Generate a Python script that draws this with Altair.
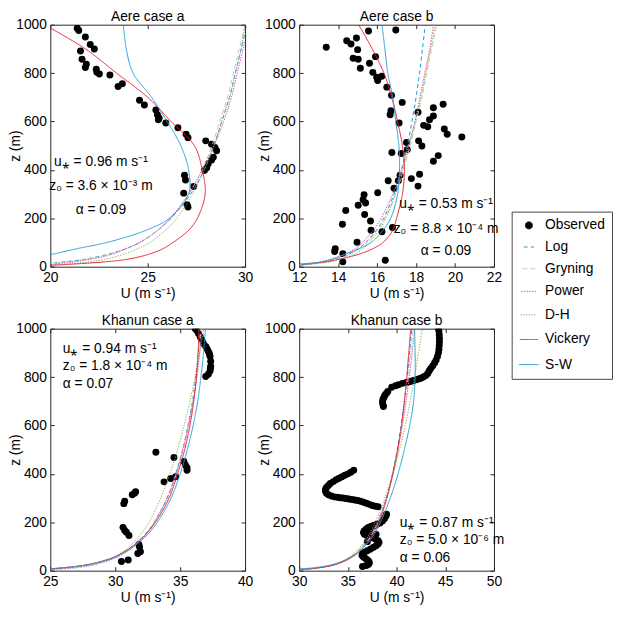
import altair as alt
import pandas as pd

FONT = "Liberation Sans"

SERIES = ["Observed", "Log", "Gryning", "Power", "D-H", "Vickery", "S-W"]
COLORS = ["#000000", "#1f96d6", "#c6c6b6", "#e052b8", "#78b03a", "#e8232b", "#2a9ed8"]
DASHES = [[1, 0], [4, 3], [5, 3], [1.5, 1.2], [1.2, 1.6], [1, 0], [1, 0]]
SHAPES = ["circle", "stroke", "stroke", "stroke", "stroke", "stroke", "stroke"]
SIZES = [50, 400, 400, 400, 400, 400, 400]

Z = [1, 2, 5, 10, 20, 30, 50, 75, 100, 150, 200, 300, 400, 500, 600, 700, 800, 900, 1000]
YTICKS = [0, 200, 400, 600, 800, 1000]

# ---------------- Aere case a ----------------
AA_TICKS = [20, 25, 30]
AA_OBS_U = [21.38, 21.46, 21.8, 21.55, 22.05, 22.26, 21.63, 21.85, 21.8, 22.36, 22.39, 22.52,
            23.06, 23.48, 23.7, 24.58, 24.83, 25.42, 25.5, 25.59, 25.55, 25.93, 26.55, 26.97,
            27.07, 27.98, 28.28, 28.45, 28.54, 28.37, 28.28, 28.11, 28.03, 27.91, 26.89, 26.94,
            26.85, 27.36, 27.02, 27.07]
AA_OBS_Z = [985, 976, 949, 891, 918, 900, 857, 837, 823, 816, 803, 796,
            792, 745, 756, 688, 668, 648, 628, 614, 607, 594, 574, 547,
            533, 520, 506, 493, 479, 452, 441, 425, 409, 398, 378, 358,
            304, 331, 256, 247]
AA_LOG = [13.5, 15.2, 17.4, 19.0, 20.7, 21.7, 22.9, 23.9, 24.6, 25.5, 26.2, 27.2, 27.9, 28.4, 28.8, 29.2, 29.5, 29.8, 30.1]
AA_GRY = [13.8, 15.5, 17.6, 19.2, 20.8, 21.8, 23.0, 23.9, 24.6, 25.5, 26.2, 27.1, 27.8, 28.3, 28.7, 29.1, 29.4, 29.7, 30.0]
AA_POW = [16.2, 17.4, 18.9, 20.0, 21.25, 22.0, 23.1, 23.9, 24.6, 25.5, 26.15, 27.1, 27.8, 28.4, 28.9, 29.3, 29.6, 29.9, 30.2]
AA_DH = [16.0, 17.5, 19.5, 20.8, 22.0, 22.8, 23.7, 24.5, 25.1, 25.9, 26.5, 27.3, 27.9, 28.4, 28.8, 29.2, 29.5, 29.8, 30.0]
AA_VIC = [17.5, 18.5, 19.8, 21.0, 22.8, 23.9, 25.0, 25.8, 26.3, 27.1, 27.55, 27.95, 27.8, 27.4, 26.2, 25.0, 23.4, 21.8, 19.7]
AA_SW = [5.0, 8.0, 12.0, 14.5, 17.0, 18.5, 20.0, 21.4, 22.9, 24.9, 26.1, 27.1, 27.1, 26.7, 26.0, 25.2, 24.25, 23.9, 23.75]
AA_NOTE_U = [22.6, 22.6, 22.6]
AA_NOTE_Z = [433, 332, 235]
AA_NOTE_T = ["u⁎ = 0.96 m s⁻¹", "z₀ = 3.6 × 10⁻³ m", "α = 0.09"]

# ---------------- Aere case b ----------------
AB_TICKS = [12, 14, 16, 18, 20, 22]
AB_OBS_U = [13.39, 14.44, 14.66, 14.94, 15.56, 16.96, 15.0, 14.77, 15.03, 15.14, 15.61, 15.92,
            15.78, 15.98, 16.24, 16.03, 16.5, 16.74, 17.29, 16.71, 16.67, 17.13, 18.1, 18.39,
            18.6, 18.69, 18.89, 18.89, 19.39, 19.45, 19.6, 20.35, 18.13, 18.3, 17.51, 17.55,
            17.24, 16.76, 19.14, 18.89, 17.76, 18.18, 18.1, 17.18, 17.09, 16.87, 16.57, 16.03,
            15.33, 15.28, 15.41, 15.03, 15.36, 14.39, 14.22, 15.66, 16.79, 16.25, 15.69, 14.97,
            13.85, 13.82, 14.24, 14.24, 16.42]
AB_OBS_Z = [907, 934, 920, 945, 974, 978, 897, 861, 857, 820, 841, 868,
            803, 783, 787, 769, 742, 708, 679, 644, 628, 594, 638, 584,
            578, 607, 623, 657, 671, 569, 547, 536, 520, 499, 513, 483,
            468, 472, 459, 436, 364, 382, 333, 378, 355, 324, 355, 306,
            297, 277, 263, 254, 216, 232, 175, 189, 162, 144, 151, 101,
            74, 63, 54, 20, 27]
AB_LOG = [9.33, 10.24, 11.46, 12.38, 13.3, 13.84, 14.51, 15.04, 15.42, 15.96, 16.34, 16.87, 17.25, 17.55, 17.79, 18.0, 18.18, 18.33, 18.47]
AB_GRY = [9.5, 10.4, 11.6, 12.5, 13.4, 13.9, 14.6, 15.1, 15.5, 16.0, 16.4, 16.95, 17.35, 17.7, 18.0, 18.3, 18.55, 18.8, 19.05]
AB_POW = [10.06, 10.7, 11.5, 12.4, 13.2, 13.7, 14.3, 14.9, 15.25, 15.8, 16.2, 16.8, 17.25, 17.6, 17.95, 18.2, 18.45, 18.7, 18.9]
AB_DH = [9.8, 10.7, 11.8, 12.6, 13.6, 14.1, 14.8, 15.3, 15.6, 16.1, 16.45, 16.95, 17.3, 17.65, 17.95, 18.25, 18.5, 18.75, 19.0]
AB_VIC = [9.0, 10.0, 11.3, 11.9, 13.3, 14.0, 15.0, 15.8, 16.3, 16.8, 17.0, 17.3, 17.4, 17.3, 17.05, 16.75, 16.35, 15.75, 15.05]
AB_SW = [10.5, 11.2, 11.8, 12.4, 13.1, 13.6, 14.3, 15.1, 15.7, 16.3, 16.7, 17.05, 17.15, 17.12, 16.96, 16.8, 16.55, 16.4, 16.25]
AB_NOTE_U = [19.54, 19.54, 19.54]
AB_NOTE_Z = [259, 155, 65]
AB_NOTE_T = ["u⁎ = 0.53 m s⁻¹", "z₀ = 8.8 × 10⁻⁴ m", "α = 0.09"]

# ---------------- Khanun case a ----------------
KA_TICKS = [25, 30, 35, 40]
KA_OBS_U = [36.16, 36.29, 36.41, 36.55, 36.67, 36.79, 36.97, 37.08, 37.17, 37.25, 37.3, 37.35,
            37.35, 37.33, 37.3, 37.17, 36.97, 33.13, 34.52, 35.28, 35.4, 35.53, 35.53, 34.65,
            34.27, 33.76, 31.49, 31.31, 31.57, 30.73, 30.66, 30.6, 30.73, 30.86, 31.06, 31.82,
            31.87, 31.94, 31.74, 31.0, 30.48]
KA_OBS_Z = [1000, 991, 980, 966, 953, 939, 926, 916, 906, 896, 886, 865,
            845, 835, 825, 812, 802, 489, 468, 451, 437, 425, 415, 388,
            381, 367, 320, 314, 326, 287, 277, 179, 166, 159, 145, 108,
            98, 78, 71, 44, 38]
KA_LOG = [20.3, 21.9, 24.0, 25.7, 27.4, 28.4, 29.7, 30.6, 31.3, 32.3, 33.0, 34.0, 34.65, 35.2, 35.6, 35.95, 36.2, 36.4, 36.55]
KA_GRY = [20.4, 22.0, 24.1, 25.8, 27.5, 28.5, 29.8, 30.7, 31.35, 32.35, 33.05, 34.05, 34.7, 35.25, 35.65, 36.0, 36.25, 36.45, 36.6]
KA_POW = [22.6, 23.7, 25.2, 26.6, 28.0, 28.8, 29.9, 30.8, 31.4, 32.4, 33.0, 34.0, 34.7, 35.2, 35.65, 36.0, 36.3, 36.5, 36.7]
KA_DH = [21.0, 22.6, 24.5, 26.0, 27.6, 28.5, 29.7, 30.5, 31.1, 31.95, 32.6, 33.5, 34.2, 34.8, 35.3, 35.75, 36.15, 36.5, 36.85]
KA_VIC = [20.5, 22.0, 24.0, 25.6, 27.3, 28.3, 29.6, 30.6, 31.3, 32.35, 33.1, 34.15, 34.8, 35.35, 35.75, 36.05, 36.25, 36.38, 36.45]
KA_SW = [19.5, 21.5, 23.8, 25.5, 27.3, 28.4, 29.7, 30.7, 31.45, 32.5, 33.25, 34.3, 35.0, 35.55, 36.0, 36.35, 36.6, 36.8, 36.95]
KA_NOTE_U = [25.96, 25.96, 25.96]
KA_NOTE_Z = [914, 844, 770]
KA_NOTE_T = ["u⁎ = 0.94 m s⁻¹", "z₀ = 1.8 × 10⁻⁴ m", "α = 0.07"]

# ---------------- Khanun case b ----------------
KB_TICKS = [30, 35, 40, 45, 50]
KB_OBS_U = [44.3, 44.35, 44.38, 44.4, 44.4, 44.38, 44.35, 44.3, 44.2, 44.05, 43.9, 43.7,
            43.5, 43.35, 43.2, 43.0, 42.75, 42.5, 42.25, 42.0, 41.75, 41.5, 41.25, 41.0,
            40.6, 40.2, 39.9, 39.5, 39.1, 38.95, 38.8, 38.7, 38.6, 38.55, 38.6, 38.65,
            35.6, 35.3, 35.0, 34.7, 34.4, 34.1, 33.8, 33.5, 33.2, 33.0, 32.8, 32.7,
            32.7, 32.8, 33.0, 33.3, 33.6, 33.9, 34.2, 34.5, 34.8, 35.1, 35.4, 35.7,
            36.0, 36.3, 36.6, 36.9, 37.2, 37.5, 37.8, 38.1,
            38.97, 38.9, 38.75, 38.55, 38.3, 38.0, 37.7, 37.4, 37.1, 36.9, 36.7, 36.6,
            36.7, 36.9, 37.2, 37.5, 37.8, 38.1, 38.2, 38.1, 37.9, 37.6, 37.3, 37.0,
            36.7, 36.5, 36.45, 36.6, 36.8, 37.0, 37.15, 37.2, 37.1, 36.9, 36.5,
            37.3, 37.9, 37.0, 37.6]
KB_OBS_Z = [1000, 990, 975, 960, 945, 930, 915, 900, 885, 870, 858, 846,
            835, 825, 815, 806, 800, 795, 792, 789, 786, 783, 780, 778,
            774, 768, 764, 758, 740, 732, 725, 716, 707, 697, 686, 678,
            415, 407, 400, 394, 388, 382, 376, 368, 360, 352, 344, 336,
            328, 320, 314, 309, 305, 303, 301, 300, 298, 296, 294, 292,
            290, 287, 283, 279, 274, 269, 266, 264,
            233, 225, 215, 205, 197, 192, 188, 184, 178, 172, 165, 158,
            151, 146, 141, 136, 131, 124, 117, 110, 103, 96, 89, 82,
            76, 70, 63, 56, 50, 44, 38, 32, 26, 21, 17,
            160, 150, 120, 185]
KB_LOG = [26.56, 28.06, 30.06, 31.56, 33.06, 33.95, 35.06, 35.94, 36.56, 37.45, 38.07, 38.95, 39.58, 40.07, 40.46, 40.8, 41.08, 41.33, 41.57]
KB_GRY = [26.6, 28.1, 30.1, 31.6, 33.1, 34.0, 35.1, 36.0, 36.6, 37.5, 38.1, 39.0, 39.65, 40.15, 40.55, 40.9, 41.2, 41.45, 41.7]
KB_POW = [27.66, 28.85, 30.4, 31.75, 33.2, 34.0, 35.05, 35.9, 36.46, 37.35, 38.0, 38.95, 39.65, 40.16, 40.6, 40.98, 41.31, 41.6, 41.87]
KB_DH = [27.0, 28.5, 30.3, 31.7, 33.1, 33.9, 34.9, 35.7, 36.3, 37.2, 37.8, 38.8, 39.6, 40.3, 40.9, 41.4, 41.85, 42.25, 42.65]
KB_VIC = [26.3, 27.9, 30.0, 31.6, 33.2, 34.1, 35.2, 36.1, 36.7, 37.6, 38.2, 39.0, 39.6, 40.1, 40.5, 40.8, 41.05, 41.25, 41.45]
KB_SW = [24.0, 26.5, 29.3, 31.0, 32.8, 33.8, 35.0, 36.0, 36.7, 37.7, 38.35, 39.35, 40.15, 40.8, 41.35, 41.75, 41.9, 41.9, 41.85]
KB_NOTE_U = [40.33, 40.33, 40.33]
KB_NOTE_Z = [195, 125, 54]
KB_NOTE_T = ["u⁎ = 0.87 m s⁻¹", "z₀ = 5.0 × 10⁻⁶ m", "α = 0.06"]

PANEL_W = 198
PANEL_H = 246


def panel(title, xdom, xticks, obs_u, obs_z, models, note_u, note_z, note_t, note_align):
    obs = pd.DataFrame({"U": obs_u, "z": obs_z, "series": "Observed"})
    frames = [pd.DataFrame({"U": vals, "z": Z, "series": name})
              for name, vals in zip(SERIES[1:], models)]
    prof = pd.concat(frames, ignore_index=True)
    notes = pd.DataFrame({"U": note_u, "z": note_z, "t": note_t})

    xs = alt.Scale(domain=xdom, nice=False, zero=False)
    ys = alt.Scale(domain=[0, 1000], nice=False, zero=False)

    x_bottom = alt.Axis(orient="bottom", values=xticks, format="d", title="U (m s⁻¹)",
                        offset=-4, tickSize=4, labelPadding=4, titlePadding=2,
                        labelFlush=False, domain=False, grid=False)
    y_left = alt.Axis(orient="left", values=YTICKS, format="d", title="z (m)",
                      offset=-4, tickSize=4, labelPadding=4, titleX=-32,
                      labelFlush=False, domain=False, grid=False)
    x_top = alt.Axis(orient="top", values=xticks, labels=False, title=None,
                     offset=-4, tickSize=4, domain=False, grid=False)
    y_right = alt.Axis(orient="right", values=YTICKS, labels=False, title=None,
                       offset=-4, tickSize=4, domain=False, grid=False)

    pts = alt.Chart(obs).mark_point(filled=True, opacity=1, clip=True).encode(
        x=alt.X("U:Q", scale=xs, axis=None),
        y=alt.Y("z:Q", scale=ys, axis=None),
        fill=alt.Fill("series:N", scale=alt.Scale(domain=SERIES, range=COLORS),
                      legend=alt.Legend(title=None)),
        shape=alt.Shape("series:N", scale=alt.Scale(domain=SERIES, range=SHAPES),
                        legend=alt.Legend(title=None)),
        size=alt.Size("series:N", scale=alt.Scale(domain=SERIES, range=SIZES),
                      legend=alt.Legend(title=None)),
    )
    lines = alt.Chart(prof).mark_line(strokeWidth=1, clip=True, interpolate="catmull-rom").encode(
        x=alt.X("U:Q", scale=xs, axis=x_bottom),
        y=alt.Y("z:Q", scale=ys, axis=y_left),
        order=alt.Order("z:Q"),
        stroke=alt.Stroke("series:N", scale=alt.Scale(domain=SERIES, range=COLORS),
                          legend=alt.Legend(title=None)),
        strokeDash=alt.StrokeDash("series:N", scale=alt.Scale(domain=SERIES, range=DASHES),
                                  legend=alt.Legend(title=None)),
    )
    txt = alt.Chart(notes).mark_text(align=note_align, baseline="middle", fontSize=14,
                                     font=FONT, color="black").encode(
        x=alt.X("U:Q", scale=xs, axis=None),
        y=alt.Y("z:Q", scale=ys, axis=None),
        text="t:N",
    )
    ghost = alt.Chart(obs).mark_point(opacity=0).encode(
        x=alt.X("U:Q", scale=xs, axis=x_top),
        y=alt.Y("z:Q", scale=ys, axis=y_right),
    )
    return alt.layer(pts, lines, txt, ghost).resolve_axis(
        x="independent", y="independent"
    ).properties(title=title, width=PANEL_W, height=PANEL_H)


p1 = panel("Aere case a", [20, 30], AA_TICKS, AA_OBS_U, AA_OBS_Z,
           [AA_LOG, AA_GRY, AA_POW, AA_DH, AA_VIC, AA_SW], AA_NOTE_U, AA_NOTE_Z, AA_NOTE_T, "center")
p2 = panel("Aere case b", [12, 22], AB_TICKS, AB_OBS_U, AB_OBS_Z,
           [AB_LOG, AB_GRY, AB_POW, AB_DH, AB_VIC, AB_SW], AB_NOTE_U, AB_NOTE_Z, AB_NOTE_T, "center")
p3 = panel("Khanun case a", [25, 40], KA_TICKS, KA_OBS_U, KA_OBS_Z,
           [KA_LOG, KA_GRY, KA_POW, KA_DH, KA_VIC, KA_SW], KA_NOTE_U, KA_NOTE_Z, KA_NOTE_T, "left")
p4 = panel("Khanun case b", [30, 50], KB_TICKS, KB_OBS_U, KB_OBS_Z,
           [KB_LOG, KB_GRY, KB_POW, KB_DH, KB_VIC, KB_SW], KB_NOTE_U, KB_NOTE_Z, KB_NOTE_T, "left")

chart = alt.concat(
    p1, p2, p3, p4, columns=2, spacing={"row": 63, "column": 55}, bounds="flush",
    padding={"left": 0, "top": -4, "right": 0, "bottom": 0},
).configure(
    font=FONT,
).configure_view(
    stroke="#262626", strokeWidth=1,
).configure_axis(
    labelFont=FONT, titleFont=FONT, labelFontSize=14, titleFontSize=14,
    titleFontWeight="normal", labelColor="black", titleColor="black",
    tickColor="#262626", tickWidth=1,
).configure_title(
    font=FONT, fontSize=14, fontWeight="normal", color="black", offset=-6,
).configure_legend(
    orient="none", legendX=469, legendY=190,
    strokeColor="#444444", fillColor="white", padding=7,
    labelFont=FONT, labelFontSize=14, labelColor="black", labelOffset=6,
    symbolStrokeWidth=1, symbolOpacity=1, rowPadding=8,
)

chart.save("out.html", embed_options={"renderer": "svg", "actions": False})
